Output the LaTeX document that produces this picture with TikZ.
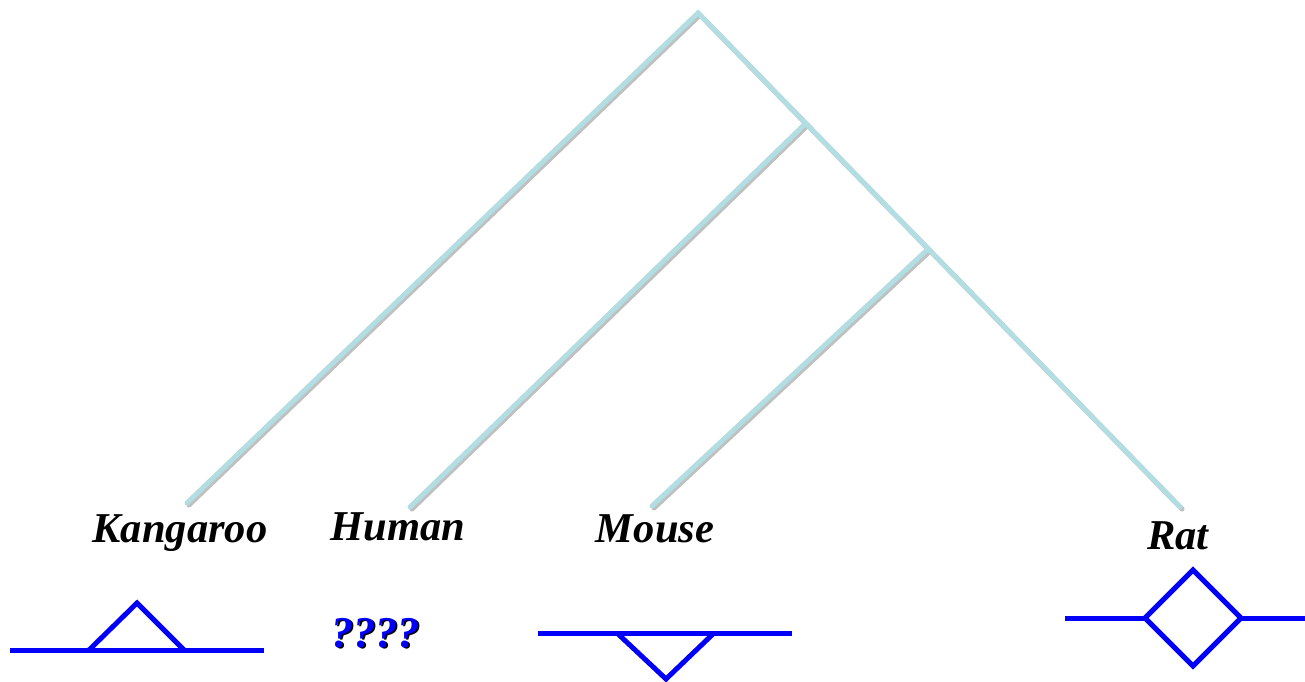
\documentclass[tikz,border=0pt]{standalone}
\usepackage{fontspec}
\setmainfont{Liberation Serif}
\definecolor{branch}{RGB}{178,221,226}
\definecolor{shadowg}{RGB}{192,192,192}
\definecolor{vblue}{RGB}{0,0,250}
\tikzset{
  shadowline/.style={draw=shadowg, line width=5pt, line cap=round, transform canvas={xshift=2pt,yshift=-2pt}},
  branchline/.style={draw=branch, line width=5pt, line cap=round},
  bluestroke/.style={draw=vblue, line width=5pt},
  taxon/.style={font=\fontsize{42.5}{44}\selectfont\bfseries\itshape, anchor=base, inner sep=0pt},
  qmarks/.style={font=\fontsize{44}{46}\selectfont\bfseries\itshape, anchor=base, inner sep=0pt},
}
\begin{document}
\begin{tikzpicture}[x=1pt,y=-1pt]
\useasboundingbox (0,0) rectangle (1305,681);
% tree coordinates
\coordinate (root) at (698,13);
\coordinate (n2) at (805,124);
\coordinate (n3) at (927,250);
\coordinate (kang) at (187,503);
\coordinate (hum) at (410,507);
\coordinate (mou) at (652,506);
\coordinate (rat) at (1180,507);
% shadows
\draw[shadowline] (kang) -- (root) -- (rat);
\draw[shadowline] (hum) -- (n2);
\draw[shadowline] (mou) -- (n3);
% branches
\draw[branchline] (kang) -- (root) -- (rat);
\draw[branchline] (hum) -- (n2);
\draw[branchline] (mou) -- (n3);
% labels
\node[taxon] (lk) at (180,542) {Kangaroo};
\node[taxon] (lh) at (398,540) {Human};
\node[taxon] (lm) at (655,542) {Mouse};
\node[taxon] (lr) at (1178,549) {Rat};
% question marks
\node[qmarks, text=black] (qs) at (377,648.5) {????};
\node[qmarks, text=vblue] (q) at (375,647.5) {????};
% kangaroo symbol
\coordinate (k1) at (10,650);
\coordinate (k2) at (89,650);
\coordinate (k3) at (137,603);
\coordinate (k4) at (184,650);
\coordinate (k5) at (264,650);
\draw[bluestroke] (k1) -- (k5);
\draw[bluestroke, line join=miter] (k2) -- (k3) -- (k4);
% mouse symbol
\coordinate (m1) at (538,633);
\coordinate (m2) at (617,633);
\coordinate (m3) at (666,679);
\coordinate (m4) at (714,633);
\coordinate (m5) at (792,633);
\draw[bluestroke] (m1) -- (m5);
\draw[bluestroke, line join=miter] (m2) -- (m3) -- (m4);
% rat symbol
\coordinate (r1) at (1065,618);
\coordinate (r2) at (1145,618);
\coordinate (r3) at (1193,570);
\coordinate (r4) at (1241,618);
\coordinate (r5) at (1193,666);
\coordinate (r6) at (1305,618);
\draw[bluestroke] (r1) -- (r2);
\draw[bluestroke, line join=miter] (r2) -- (r3) -- (r4) -- (r5) -- cycle;
\draw[bluestroke] (r4) -- (r6);
\end{tikzpicture}
\end{document}
